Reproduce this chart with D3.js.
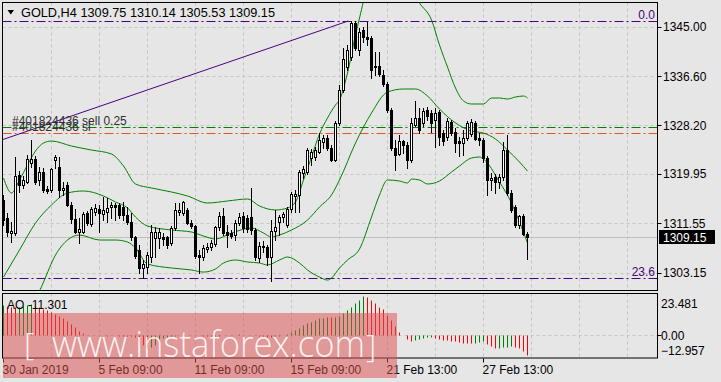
<!DOCTYPE html>
<html>
<head>
<meta charset="utf-8">
<script src="https://cdn.jsdelivr.net/npm/d3@7"></script>
<style>
  html, body { margin: 0; padding: 0; background: #e6e6e6; }
  svg { display: block; font-family: Tahoma, "Liberation Sans", Arial, sans-serif; font-size: 12px; }
</style>
</head>
<body>
<svg id="chart" width="721" height="382"></svg>
<script>
// GOLD, H4 - 30 Jan .. 28 Feb 2019

const opens = [1315.52,1312.45,1309.90,1309.90,1319.77,1318.07,1318.58,1321.81,1322.49,1318.92,
  1320.28,1317.39,1317.22,1322.32,1321.13,1317.22,1318.07,1314.67,1312.28,1310.07,
  1310.07,1313.31,1311.43,1313.48,1313.99,1313.14,1313.48,1314.33,1314.67,1314.67,
  1314.33,1312.96,1311.77,1309.22,1307.01,1303.95,1304.12,1305.82,1309.05,1309.05,
  1309.22,1309.22,1308.20,1310.75,1313.48,1313.31,1313.82,1311.60,1311.09,1306.16,
  1305.82,1307.18,1307.52,1308.03,1310.92,1312.79,1310.07,1309.90,1309.56,1311.60,
  1312.79,1312.45,1312.62,1310.41,1305.65,1307.69,1307.52,1305.82,1310.24,1311.77,
  1312.62,1311.26,1313.99,1316.20,1316.37,1320.11,1320.28,1322.66,1322.83,1323.68,
  1325.38,1326.06,1324.36,1322.32,1328.62,1334.23,1338.14,1339.84,1345.63,1341.04,
  1344.44,1343.25,1343.08,1338.14,1338.31,1336.78,1335.25,1330.83,1324.36,1323.34,
  1325.55,1324.87,1322.32,1328.28,1329.47,1328.62,1330.83,1330.32,1329.13,1330.49,
  1326.91,1326.23,1328.79,1327.08,1325.55,1325.21,1326.06,1326.74,1328.62,1326.06,
  1325.72,1322.66,1318.92,1319.43,1318.58,1319.43,1324.02,1316.71,1314.33,1311.26,
  1312.79,1309.75];

const highs = [1316.37,1313.31,1311.77,1322.83,1320.45,1319.60,1323.17,1325.72,1323.00,1321.13,
  1320.96,1317.90,1320.96,1323.17,1322.83,1318.58,1318.58,1315.18,1313.99,1312.45,
  1313.48,1313.65,1314.33,1314.84,1314.67,1316.03,1315.86,1315.18,1315.01,1315.01,
  1315.18,1314.33,1313.31,1309.39,1307.86,1305.31,1306.67,1311.26,1310.92,1310.75,
  1309.90,1309.39,1311.09,1315.01,1315.01,1315.35,1314.16,1312.11,1311.26,1307.01,
  1307.86,1308.20,1308.71,1311.09,1313.48,1314.16,1311.26,1310.41,1312.11,1313.31,
  1313.48,1312.96,1317.56,1310.75,1308.37,1308.54,1307.86,1312.11,1313.82,1312.96,
  1313.48,1314.33,1316.88,1317.22,1320.62,1321.30,1324.36,1324.19,1324.53,1326.91,
  1326.57,1326.57,1324.87,1328.96,1335.08,1341.37,1341.88,1345.97,1345.97,1344.78,
  1344.95,1345.80,1343.42,1340.69,1340.69,1337.63,1335.59,1331.17,1325.72,1326.57,
  1325.72,1325.38,1329.47,1332.36,1331.17,1331.17,1331.34,1330.83,1331.17,1330.83,
  1327.43,1329.47,1329.13,1327.76,1326.23,1327.43,1328.96,1329.30,1328.96,1326.91,
  1326.06,1323.00,1320.11,1319.94,1319.94,1325.38,1326.57,1317.22,1314.67,1312.96,
  1313.14,1310.14];

const lows = [1311.26,1309.39,1308.37,1309.56,1316.88,1317.56,1318.41,1321.13,1318.24,1318.07,
  1316.88,1316.71,1316.88,1320.96,1316.03,1316.37,1314.50,1311.60,1309.90,1308.20,
  1309.90,1311.26,1311.09,1312.96,1310.07,1312.11,1311.77,1312.45,1312.11,1312.45,
  1312.11,1311.43,1308.71,1305.65,1303.10,1302.25,1303.10,1304.97,1305.82,1307.35,
  1307.86,1307.35,1307.86,1310.41,1312.96,1312.96,1311.43,1310.75,1305.65,1303.10,
  1305.31,1306.67,1307.01,1307.69,1310.41,1309.56,1307.52,1309.05,1308.71,1311.26,
  1310.07,1310.07,1309.73,1305.31,1304.97,1306.67,1304.46,1301.74,1308.71,1309.56,
  1311.77,1310.92,1313.48,1313.48,1313.48,1319.26,1319.94,1321.47,1322.32,1323.51,
  1324.36,1324.02,1322.15,1322.15,1328.28,1333.89,1337.63,1339.33,1341.04,1340.18,
  1342.40,1341.88,1336.27,1336.78,1336.61,1334.91,1330.49,1324.02,1320.62,1323.17,
  1323.51,1320.96,1321.98,1328.11,1326.91,1328.11,1329.13,1327.08,1324.53,1324.87,
  1324.87,1325.72,1326.57,1323.68,1323.00,1323.17,1325.72,1326.40,1325.72,1324.87,
  1321.98,1316.37,1317.22,1316.71,1317.56,1318.92,1316.37,1313.48,1310.92,1310.75,
  1309.56,1305.53];

const closes = [1312.11,1310.07,1310.24,1319.60,1318.07,1318.92,1322.49,1322.49,1318.58,1320.28,
  1317.22,1317.05,1320.79,1322.83,1317.22,1317.56,1314.67,1312.28,1310.07,1310.58,
  1313.14,1311.60,1313.99,1314.16,1313.31,1313.82,1314.16,1314.67,1314.33,1312.96,
  1312.96,1311.77,1309.22,1305.99,1303.95,1304.63,1306.16,1310.07,1310.07,1310.07,
  1308.88,1307.86,1310.75,1313.82,1313.82,1315.18,1311.60,1311.09,1305.99,1305.82,
  1307.35,1307.52,1308.20,1310.92,1312.79,1309.90,1309.56,1309.39,1311.60,1312.62,
  1310.75,1310.58,1310.41,1305.82,1307.69,1307.52,1305.82,1310.24,1310.92,1312.62,
  1313.14,1313.99,1316.54,1316.54,1320.28,1320.79,1324.02,1323.68,1324.02,1325.72,
  1326.06,1324.36,1322.32,1328.62,1334.23,1339.50,1341.04,1345.63,1341.37,1344.10,
  1343.25,1342.91,1337.63,1338.31,1336.95,1335.25,1330.83,1324.36,1323.17,1325.55,
  1324.87,1322.32,1328.62,1329.47,1327.43,1330.66,1329.81,1328.62,1330.32,1326.23,
  1325.55,1328.96,1326.91,1325.21,1325.21,1326.06,1328.62,1328.79,1325.89,1325.72,
  1322.66,1318.92,1319.26,1318.58,1319.43,1324.02,1316.71,1313.82,1311.26,1312.79,
  1309.73,1309.15];

// Bollinger bands, read as [bar, price] points along each line
const upperBand = [[0,1319.26],[2,1316.71],[4,1318.92],[6,1321.47],[8,1323.85],[10,1325.21],
  [12,1325.55],[17,1324.70],[22,1324.02],[27,1323.34],[30,1321.30],[33,1318.24],[37,1317.56],
  [42,1316.88],[46,1316.20],[51,1315.01],[56,1315.35],[61,1315.69],[64,1314.50],[68,1313.82],
  [71,1314.16],[73,1315.18],[75,1318.92],[77,1322.83],[79,1326.74],[81,1329.47],[83,1331.68],
  [84,1332.53],[86,1337.12],[88,1343.59],[89,1346.48],[91,1351.58],[95,1354.64],[99,1353.79],
  [102,1351.24],[104,1349.03],[107,1346.14],[109,1341.88],[111,1338.14],[113,1334.57],
  [115,1332.36],[117,1331.85],[120,1331.85],[122,1332.87],[124,1332.87],[126,1332.70],
  [128,1333.04],[130,1333.21],[131,1332.87]];

const middleBand = [[0,1302.41],[4,1307.01],[8,1311.60],[12,1314.67],[16,1316.71],[20,1317.05],
  [25,1316.20],[28,1315.18],[31,1314.16],[33,1312.62],[36,1311.09],[42,1310.41],[47,1310.07],
  [50,1309.39],[53,1308.88],[57,1309.90],[62,1310.75],[65,1309.90],[67,1309.22],[69,1309.56],
  [72,1310.41],[76,1312.11],[79,1314.33],[82,1316.37],[84,1318.92],[88,1325.21],[92,1330.32],
  [96,1333.89],[100,1334.40],[103,1334.40],[106,1333.21],[109,1331.00],[113,1328.62],
  [117,1327.25],[120,1326.91],[123,1325.89],[126,1324.02],[129,1321.98],[131,1320.45]];

const lowerBand = [[0,1285.57],[3,1292.72],[6,1297.14],[9,1300.03],[10,1301.56],[13,1306.16],
  [16,1308.71],[19,1309.56],[24,1308.71],[28,1308.71],[31,1308.37],[33,1307.35],[36,1304.63],
  [42,1303.95],[47,1303.61],[50,1303.26],[53,1303.78],[55,1304.80],[58,1305.31],[61,1304.97],
  [64,1304.80],[66,1304.46],[69,1305.31],[71,1305.82],[74,1304.80],[76,1303.61],[79,1302.41],
  [81,1301.90],[82,1302.24],[84,1303.95],[86,1305.31],[89,1307.18],[92,1312.62],[94,1316.37],
  [96,1318.92],[99,1318.75],[101,1318.41],[102,1319.09],[104,1318.92],[106,1318.24],
  [109,1318.75],[112,1320.28],[114,1321.30],[117,1322.66],[119,1322.83],[120,1322.49],
  [124,1318.58],[127,1315.01],[129,1311.77],[131,1308.20]];

// Awesome Oscillator, one value per bar
const aoValues = [18.0,17.5,17.0,16.6,16.9,17.4,17.9,18.2,17.6,16.6,
  15.5,14.9,13.9,12.7,11.2,10.0,8.4,6.6,4.8,2.9,
  1.4,0.5,0.3,0.2,0.3,0.1,-0.1,0.2,0.1,-0.2,
  -0.3,-0.4,-0.6,-1.2,-3.2,-5.6,-7.2,-7.0,-5.8,-2.8,
  -1.6,-1.0,-0.6,-0.2,0.2,0.4,0.5,0.4,0.3,0.1,
  -0.3,-0.5,-0.6,-0.4,-0.2,0.1,0.3,0.4,0.5,0.6,
  0.5,0.4,0.2,0.0,-0.3,-0.6,-0.8,-0.9,-0.6,-0.2,
  0.3,0.9,2.3,3.3,4.3,5.9,7.2,8.2,9.2,10.1,
  10.5,10.8,10.6,10.9,11.7,13.1,15.0,17.0,18.9,20.9,
  23.481,22.5,20.9,18.9,17.0,15.6,12.1,9.2,5.3,2.0,
  0.4,-2.0,-3.5,-2.5,-2.0,-1.6,-1.2,-1.0,-1.6,-2.1,
  -2.5,-2.9,-3.1,-3.5,-3.9,-4.5,-4.6,-4.7,-4.5,-3.9,
  -3.5,-5.3,-6.2,-7.4,-7.2,-6.9,-6.5,-6.0,-6.6,-7.6,
  -9.1,-11.301];

const priceTicks = [1303.15, 1311.55, 1319.95, 1328.20, 1336.60, 1345.00];
const aoTicks = [23.481, 0, -12.957];
const timeTicks = [0, 24, 48, 72, 96, 120];
const timeLabels = ["30 Jan 2019", "5 Feb 09:00", "11 Feb 09:00", "15 Feb 09:00", "21 Feb 13:00", "27 Feb 13:00"];

const fibLevels = [{ label: "0.0", price: 1345.95 }, { label: "23.6", price: 1302.30 }];
const orderLines = [
  { text: "#401824436 sell 0.25", price: 1327.94, color: "#008000" },
  { text: "#401824436 sl", price: 1326.92, color: "#e8501e" }
];
const trendLine = [[-0.5, 1325.72], [86.2, 1345.97]];
const lastPrice = 1309.15;
const header = "GOLD,H4   1309.75 1310.14 1305.53 1309.15";
const aoLabel = "AO -11.301";

// ---- layout
const main = { left: 2.5, top: 2.5, right: 657.5, bottom: 291 };
const sub = { left: 2.5, top: 293.5, right: 657.5, bottom: 358.5 };

const svg = d3.select("#chart");

const x = d3.scaleLinear().domain([0, 1]).range([3.5, 7.5]);
const y = d3.scaleLinear().domain([1303.15, 1345]).range([272.7, 26.7]);
const aoY = d3.scaleLinear().domain([-12.957, 23.481]).range([357.5, 295.5]);
const px = v => Math.round(v) + 0.5;

const defs = svg.append("defs");
defs.append("clipPath").attr("id", "clipMain").append("rect")
  .attr("x", main.left).attr("y", main.top)
  .attr("width", main.right - main.left).attr("height", main.bottom - main.top);
defs.append("clipPath").attr("id", "clipSub").append("rect")
  .attr("x", sub.left).attr("y", sub.top)
  .attr("width", sub.right - sub.left).attr("height", sub.bottom - sub.top);

svg.append("rect").attr("width", 721).attr("height", 382).attr("fill", "#e6e6e6");

const gMain = svg.append("g").attr("clip-path", "url(#clipMain)");
const gSub = svg.append("g").attr("clip-path", "url(#clipSub)");

// grid
const vGrid = d3.range(12, 160, 12);
gMain.selectAll("line.vgrid").data(vGrid).join("line")
  .attr("class", "vgrid")
  .attr("x1", d => x(d)).attr("x2", d => x(d))
  .attr("y1", main.top).attr("y2", main.bottom)
  .attr("stroke", "#c4c4c4").attr("stroke-dasharray", "3,3");
gMain.selectAll("line.hgrid").data(priceTicks).join("line")
  .attr("class", "hgrid")
  .attr("x1", main.left).attr("x2", main.right)
  .attr("y1", d => px(y(d))).attr("y2", d => px(y(d)))
  .attr("stroke", "#c4c4c4").attr("stroke-dasharray", "3,3");
gSub.selectAll("line.vgrid").data(vGrid).join("line")
  .attr("class", "vgrid")
  .attr("x1", d => x(d)).attr("x2", d => x(d))
  .attr("y1", sub.top).attr("y2", sub.bottom)
  .attr("stroke", "#c4c4c4").attr("stroke-dasharray", "3,3");
gSub.append("line")
  .attr("x1", sub.left).attr("x2", sub.right)
  .attr("y1", px(aoY(0))).attr("y2", px(aoY(0)))
  .attr("stroke", "#c4c4c4").attr("stroke-dasharray", "3,3");

// last price line
gMain.append("line")
  .attr("x1", main.left).attr("x2", main.right)
  .attr("y1", px(y(lastPrice))).attr("y2", px(y(lastPrice)))
  .attr("stroke", "#c0c0c0");

// fibo levels, order lines
gMain.selectAll("line.fib").data(fibLevels).join("line")
  .attr("class", "fib")
  .attr("x1", main.left).attr("x2", main.right)
  .attr("y1", d => px(y(d.price))).attr("y2", d => px(y(d.price)))
  .attr("stroke", "#4b0082").attr("stroke-dasharray", "9,3,2,3");
gMain.selectAll("line.order").data(orderLines).join("line")
  .attr("class", "order")
  .attr("x1", main.left).attr("x2", main.right)
  .attr("y1", d => px(y(d.price))).attr("y2", d => px(y(d.price)))
  .attr("stroke", d => d.color).attr("stroke-dasharray", "9,3,2,3");

// bollinger bands
const bandLine = d3.line().x(d => x(d[0])).y(d => y(d[1])).curve(d3.curveMonotoneX);
gMain.selectAll("path.band").data([upperBand, middleBand, lowerBand]).join("path")
  .attr("class", "band")
  .attr("d", bandLine)
  .attr("fill", "none").attr("stroke", "#008000").attr("stroke-width", 1);

// trend line
gMain.append("path")
  .attr("d", d3.line().x(d => x(d[0])).y(d => y(d[1]))(trendLine))
  .attr("fill", "none").attr("stroke", "#4b0082").attr("stroke-width", 1);

// candles
const bars = opens.map((o, i) => ({ i, o, h: highs[i], l: lows[i], c: closes[i] }));
const candle = gMain.selectAll("g.candle").data(bars).join("g").attr("class", "candle");
candle.append("line")
  .attr("x1", d => x(d.i)).attr("x2", d => x(d.i))
  .attr("y1", d => px(y(d.h)) - 0.5).attr("y2", d => px(y(d.l)) + 0.5)
  .attr("stroke", "#000");
candle.append("rect")
  .attr("x", d => x(d.i) - 1)
  .attr("y", d => px(y(Math.max(d.o, d.c))))
  .attr("width", 2)
  .attr("height", d => Math.max(Math.round(y(Math.min(d.o, d.c))) - Math.round(y(Math.max(d.o, d.c))), 0))
  .attr("fill", d => d.c >= d.o ? "#fff" : "#000")
  .attr("stroke", "#000");

// AO histogram
const aoBars = aoValues.map((v, i) => ({ i, v, up: i === 0 || v > aoValues[i - 1] }));
gSub.selectAll("line.ao").data(aoBars).join("line")
  .attr("class", "ao")
  .attr("x1", d => x(d.i)).attr("x2", d => x(d.i))
  .attr("y1", px(aoY(0))).attr("y2", d => px(aoY(d.v)))
  .attr("stroke", d => d.up ? "#008000" : "#ff0000");

// frames
svg.append("rect")
  .attr("x", main.left).attr("y", main.top)
  .attr("width", main.right - main.left).attr("height", main.bottom - main.top - 0.5)
  .attr("fill", "none").attr("stroke", "#000");
svg.append("rect")
  .attr("x", sub.left).attr("y", sub.top)
  .attr("width", sub.right - sub.left).attr("height", sub.bottom - sub.top - 0.5)
  .attr("fill", "none").attr("stroke", "#000");

// price axis
const pAxis = svg.append("g");
pAxis.selectAll("line").data(priceTicks).join("line")
  .attr("x1", main.right).attr("x2", main.right + 4)
  .attr("y1", d => px(y(d))).attr("y2", d => px(y(d)))
  .attr("stroke", "#000");
pAxis.selectAll("text").data(priceTicks).join("text")
  .attr("x", 663).attr("y", d => y(d) + 4.5)
  .attr("fill", "#000")
  .text(d => d.toFixed(2));

// current price tag
svg.append("rect")
  .attr("x", 659).attr("y", Math.round(y(lastPrice)) - 7)
  .attr("width", 56).attr("height", 14).attr("fill", "#000");
svg.append("text")
  .attr("x", 663).attr("y", y(lastPrice) + 4.5)
  .attr("fill", "#fff").text(lastPrice.toFixed(2));

// AO axis
const aoAxis = svg.append("g");
aoAxis.selectAll("line").data([0]).join("line")
  .attr("x1", sub.right).attr("x2", sub.right + 4)
  .attr("y1", d => px(aoY(d))).attr("y2", d => px(aoY(d)))
  .attr("stroke", "#000");
aoAxis.selectAll("text").data(aoTicks).join("text")
  .attr("x", 661)
  .attr("y", (d, k) => k === 0 ? aoY(d) + 12 : k === 2 ? aoY(d) - 3 : aoY(d) + 4.5)
  .attr("fill", "#000")
  .text(d => d === 0 ? "0.00" : d3.format(".3f")(d));

// time axis
const tAxis = svg.append("g");
tAxis.selectAll("line").data(timeTicks).join("line")
  .attr("x1", d => x(d)).attr("x2", d => x(d))
  .attr("y1", sub.bottom).attr("y2", sub.bottom + 4)
  .attr("stroke", "#000");
tAxis.selectAll("text").data(timeTicks).join("text")
  .attr("x", d => x(d) - 1).attr("y", 374)
  .attr("fill", "#000")
  .text((d, k) => timeLabels[k]);

// labels on the chart
svg.selectAll("text.fibLabel").data(fibLevels).join("text")
  .attr("class", "fibLabel")
  .attr("x", 655).attr("y", d => y(d.price) - 2)
  .attr("text-anchor", "end")
  .attr("fill", "#4b0082")
  .text(d => d.label);
svg.selectAll("text.orderLabel").data(orderLines).join("text")
  .attr("class", "orderLabel")
  .attr("x", 12).attr("y", d => y(d.price) - 2)
  .attr("fill", "#303030")
  .text(d => d.text);

svg.append("path").attr("d", "M7.5,10 L14,10 L10.75,14.5 Z").attr("fill", "#000");
svg.append("text").attr("x", 21).attr("y", 16.5).attr("fill", "#000")
  .attr("textLength", 254).attr("lengthAdjust", "spacingAndGlyphs").text(header);
svg.append("text").attr("x", 7).attr("y", 308.5).attr("fill", "#000").text(aoLabel);

// watermark
const wmFont = "'Open Sans', 'Liberation Sans', Arial, sans-serif";
const wm = svg.append("g");
wm.append("rect")
  .attr("x", 3).attr("y", 313).attr("width", 394).attr("height", 65)
  .attr("fill", "rgba(220,80,80,0.52)");
wm.append("text").attr("x", 24).attr("y", 355)
  .attr("font-family", wmFont).attr("font-weight", 300)
  .attr("font-size", 32).attr("fill", "rgba(255,255,255,0.88)").text("[");
wm.append("text").attr("x", 52).attr("y", 357)
  .attr("font-family", wmFont).attr("font-weight", 300)
  .attr("font-size", 37).attr("textLength", 313).attr("lengthAdjust", "spacingAndGlyphs")
  .attr("fill", "rgba(255,255,255,0.88)").text("www.instaforex.com");
wm.append("text").attr("x", 366).attr("y", 357)
  .attr("font-family", wmFont).attr("font-weight", 300)
  .attr("font-size", 32).attr("fill", "rgba(255,255,255,0.88)").text("]");
</script>
</body>
</html>
